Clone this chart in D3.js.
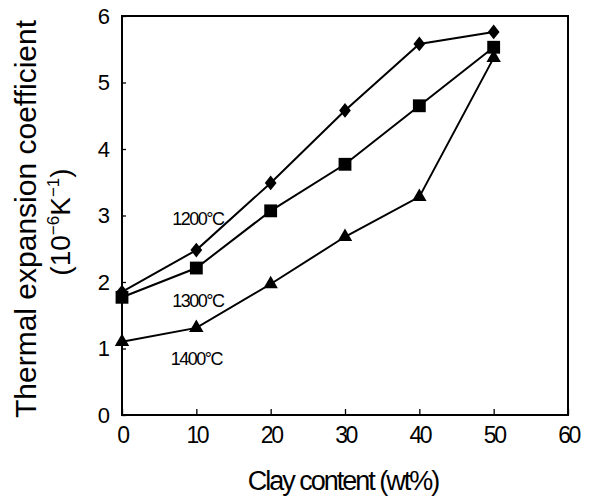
<!DOCTYPE html>
<html>
<head>
<meta charset="utf-8">
<script src="https://d3js.org/d3.v7.min.js"></script>
<style>
  body { margin: 0; background: #fff; }
  text { font-family: "Liberation Sans", Arial, sans-serif; fill: #000; }
</style>
</head>
<body>
<script>
// values
var clay = [0, 10, 20, 30, 40, 50];
var t1200 = [1.85, 2.48, 3.49, 4.58, 5.58, 5.76];
var t1300 = [1.77, 2.21, 3.07, 3.77, 4.65, 5.53];
var t1400 = [1.10, 1.31, 1.97, 2.68, 3.28, 5.37];
var xTicks = [0, 10, 20, 30, 40, 50, 60];
var yTicks = [0, 1, 2, 3, 4, 5, 6];
var seriesNames = ["1200\u00b0C", "1300\u00b0C", "1400\u00b0C"];
// where the series labels sit (data units)
var labelX = [10.2, 10.2, 10.0];
var labelY = [2.86, 1.62, 0.75];

var width = 591, height = 502;
var margin = {top: 16, right: 23, bottom: 87, left: 122};

var svg = d3.select("body").append("svg")
    .attr("width", width)
    .attr("height", height);

var x = d3.scaleLinear().domain([0, 60]).range([margin.left, width - margin.right]);
var y = d3.scaleLinear().domain([0, 6]).range([height - margin.bottom, margin.top]);

// frame
svg.append("rect")
    .attr("x", x(0)).attr("y", y(6))
    .attr("width", x(60) - x(0)).attr("height", y(0) - y(6))
    .attr("fill", "none").attr("stroke", "#000").attr("stroke-width", 2);

// inward ticks
var xAxis = svg.append("g")
    .attr("transform", "translate(0," + y(0) + ")")
    .call(d3.axisBottom(x).tickValues(xTicks).tickFormat(d3.format("d"))
      .tickSizeInner(-6).tickSizeOuter(0).tickPadding(12));
xAxis.select(".domain").remove();
xAxis.selectAll("line").attr("stroke-width", 1.3);
xAxis.selectAll("text")
    .style("font-size", "23px")
    .style("letter-spacing", "-2.5px")
    .attr("dy", "0.71em");

var yAxis = svg.append("g")
    .attr("transform", "translate(" + x(0) + ",0)")
    .call(d3.axisLeft(y).tickValues(yTicks).tickFormat(d3.format("d"))
      .tickSizeInner(-4).tickSizeOuter(0).tickPadding(12));
yAxis.select(".domain").remove();
yAxis.selectAll("line").attr("stroke-width", 1.3);
yAxis.selectAll("text").style("font-size", "22px");

// series
var diamond = {
  draw: function(ctx, size) {
    var h = Math.sqrt(size) * 0.62, w = h * 0.8;
    ctx.moveTo(0, -h); ctx.lineTo(w, 0); ctx.lineTo(0, h); ctx.lineTo(-w, 0); ctx.closePath();
  }
};
var series = [
  {vals: t1200, sym: diamond, size: 140},
  {vals: t1300, sym: d3.symbolSquare, size: 165},
  {vals: t1400, sym: d3.symbolTriangle, size: 90}
];

var line = d3.line()
    .x(function(d, i) { return x(clay[i]); })
    .y(function(d) { return y(d); });

series.forEach(function(s) {
  svg.append("path")
      .attr("d", line(s.vals))
      .attr("fill", "none")
      .attr("stroke", "#000")
      .attr("stroke-width", 2);
  svg.selectAll(null)
      .data(s.vals)
      .enter().append("path")
      .attr("transform", function(d, i) { return "translate(" + x(clay[i]) + "," + y(d) + ")"; })
      .attr("d", d3.symbol().type(s.sym).size(s.size))
      .attr("fill", "#000");
});

// series labels
svg.selectAll(".lbl")
    .data(seriesNames)
    .enter().append("text")
    .attr("class", "lbl")
    .attr("x", function(d, i) { return x(labelX[i]); })
    .attr("y", function(d, i) { return y(labelY[i]); })
    .attr("text-anchor", "middle")
    .style("font-size", "18px")
    .style("letter-spacing", "-1.5px")
    .text(function(d) { return d; });

// axis titles
svg.append("text")
    .attr("x", (x(0) + x(60)) / 2 - 2)
    .attr("y", 490)
    .attr("text-anchor", "middle")
    .style("font-size", "27px")
    .style("letter-spacing", "-2px")
    .text("Clay content (wt%)");

var yt = svg.append("text")
    .attr("transform", "translate(36,219) rotate(-90)")
    .attr("text-anchor", "middle")
    .style("font-size", "30px");
yt.append("tspan").attr("x", 0).attr("y", 0).text("Thermal expansion coefficient");
var yt2 = svg.append("text")
    .attr("transform", "translate(70,222) rotate(-90)")
    .attr("text-anchor", "middle")
    .style("font-size", "28px");
yt2.append("tspan").text("(10");
yt2.append("tspan").attr("dy", -11).style("font-size", "17px").text("\u22126");
yt2.append("tspan").attr("dy", 11).text("K");
yt2.append("tspan").attr("dy", -11).style("font-size", "17px").text("\u22121");
yt2.append("tspan").attr("dy", 11).text(")");
</script>
</body>
</html>
